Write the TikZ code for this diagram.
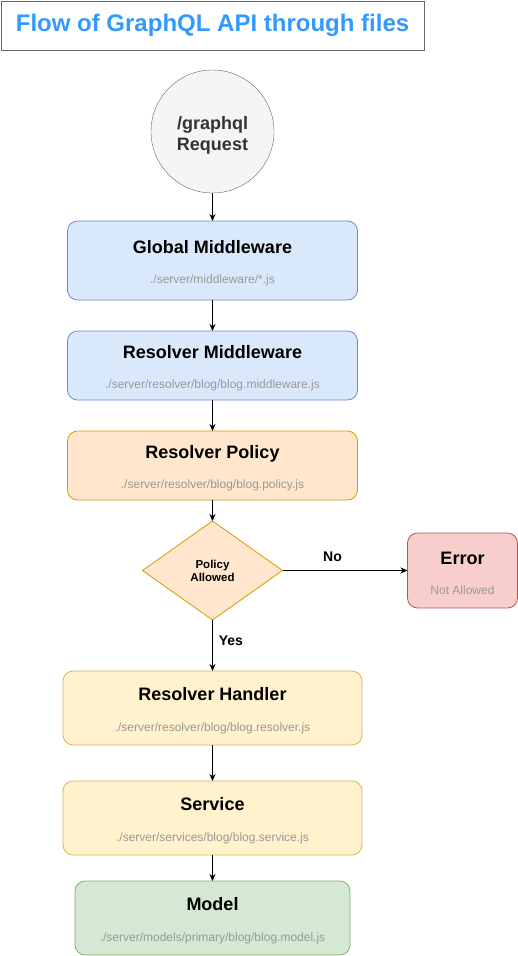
\documentclass[tikz,border=0pt]{standalone}
\usepackage{fontspec}
\setmainfont{Liberation Sans}
\usetikzlibrary{positioning,shapes.geometric,arrows.meta}
\definecolor{titleblue}{HTML}{3399FF}
\definecolor{framegray}{HTML}{666666}
\definecolor{subgray}{HTML}{999999}
\definecolor{reqfill}{HTML}{F5F5F5}
\definecolor{reqtext}{HTML}{333333}
\definecolor{bluefill}{HTML}{DAE8FC}
\definecolor{blueline}{HTML}{6C8EBF}
\definecolor{orangefill}{HTML}{FFE6CC}
\definecolor{orangeline}{HTML}{D79B00}
\definecolor{yellowfill}{HTML}{FFF2CC}
\definecolor{yellowline}{HTML}{D6B656}
\definecolor{greenfill}{HTML}{D5E8D4}
\definecolor{greenline}{HTML}{82B366}
\definecolor{redfill}{HTML}{F8CECC}
\definecolor{redline}{HTML}{B85450}
\newcommand{\subtxt}[1]{{\mdseries\fontsize{12}{14}\selectfont\color{subgray}#1}}
\newcommand{\boxtxt}[2]{\rule{0pt}{18pt}#1\\\subtxt{#2}}
\begin{document}
\begin{tikzpicture}[x=1pt,y=1pt,outer sep=0pt,
        box/.style={draw,rectangle,rounded corners=10pt,line width=0.8pt,align=center,font=\bfseries\fontsize{18}{30.5}\selectfont},
        arr/.style={-{Stealth[length=7pt,width=6pt]},line width=0.9pt},
        lbl/.style={font=\bfseries\fontsize{14}{16}\selectfont}]
        \useasboundingbox (0,0) rectangle (518,-956);
        \node[draw=framegray,line width=1pt,rectangle,minimum width=423pt,minimum height=49pt,text=titleblue,font=\bfseries\fontsize{24}{28}\selectfont] (t) at (212.5,-25.5) {Flow of GraphQL API through files};
        \node[draw=framegray,fill=reqfill,circle,minimum size=123pt,align=center,text=reqtext,font=\bfseries\fontsize{18}{20.5}\selectfont,below=20pt of t] (req) {\rule{0pt}{20.5pt}/graphql\\Request};
        \node[box,draw=blueline,fill=bluefill,minimum width=290pt,minimum height=79pt,below=28pt of req] (gm) {\boxtxt{Global Middleware}{./server/middleware/*.js}};
        \node[box,draw=blueline,fill=bluefill,minimum width=290pt,minimum height=69pt,below=31pt of gm] (rm) {\boxtxt{Resolver Middleware}{./server/resolver/blog/blog.middleware.js}};
        \node[box,draw=orangeline,fill=orangefill,minimum width=290pt,minimum height=69pt,below=31pt of rm] (rp) {\boxtxt{Resolver Policy}{./server/resolver/blog/blog.policy.js}};
        \node[draw=orangeline,fill=orangefill,diamond,line width=0.8pt,minimum width=140pt,minimum height=99pt,inner sep=0pt,align=center,font=\bfseries\fontsize{11.5}{13}\selectfont,below=21pt of rp] (pol) {Policy\\Allowed};
        \node[box,draw=redline,fill=redfill,minimum width=110pt,minimum height=75pt,right=125pt of pol] (err) {\boxtxt{Error}{Not Allowed}};
        \node[box,draw=yellowline,fill=yellowfill,minimum width=299pt,minimum height=74pt,below=51pt of pol] (rh) {\boxtxt{Resolver Handler}{./server/resolver/blog/blog.resolver.js}};
        \node[box,draw=yellowline,fill=yellowfill,minimum width=299pt,minimum height=74pt,below=36pt of rh] (svc) {\boxtxt{Service}{./server/services/blog/blog.service.js}};
        \node[box,draw=greenline,fill=greenfill,minimum width=275pt,minimum height=74pt,below=26pt of svc] (mdl) {\boxtxt{Model}{./server/models/primary/blog/blog.model.js}};

        \draw[arr] (req) -- (gm);
        \draw[arr] (gm) -- (rm);
        \draw[arr] (rm) -- (rp);
        \draw[arr] (rp) -- (pol);
        \draw[arr] (pol) -- node[lbl,pos=0.4,above=6pt] {No} (err);
        \draw[arr] (pol) -- node[lbl,pos=0.4,right=3pt] {Yes} (rh);
        \draw[arr] (rh) -- (svc);
        \draw[arr] (svc) -- (mdl);
    \end{tikzpicture}
\end{document}
